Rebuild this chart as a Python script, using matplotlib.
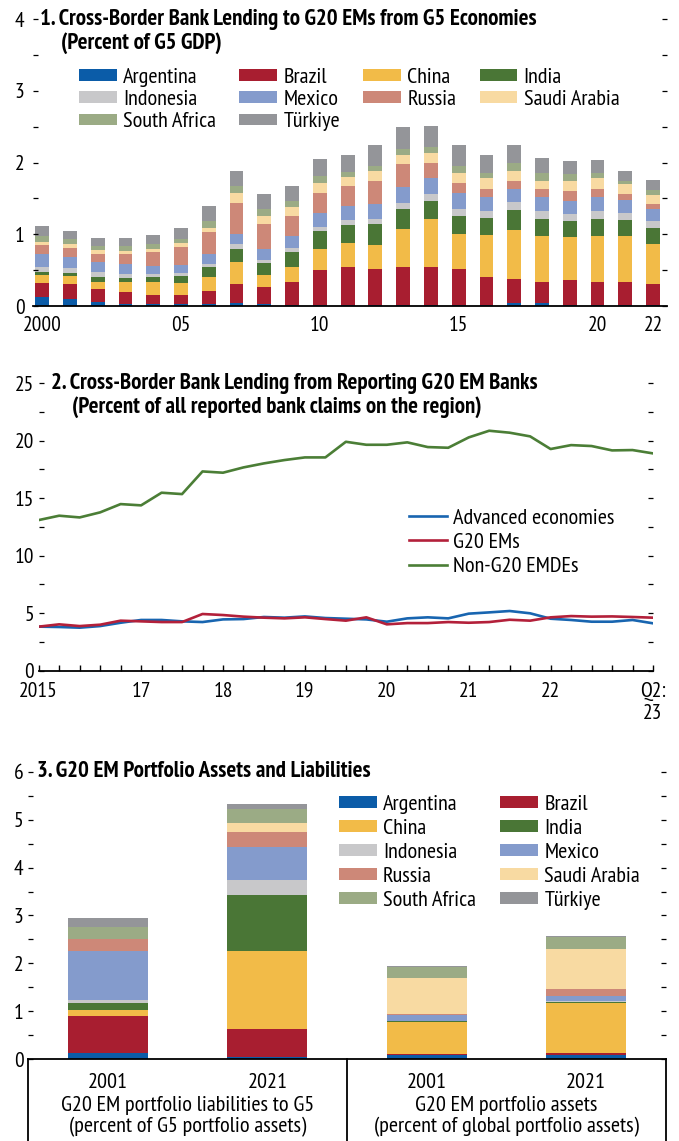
import matplotlib
matplotlib.use("Agg")
import matplotlib.pyplot as plt
from matplotlib import font_manager
from matplotlib.ticker import MultipleLocator
import numpy as np

# ---------------------------------------------------------------- fonts
# the chart uses a condensed grotesque; take the first narrow family that is here
installed = {}
for f in font_manager.fontManager.ttflist:
    installed.setdefault(f.name, set()).add(f.weight)
narrow = ["Liberation Sans Narrow", "Arial Narrow", "Archivo Narrow", "PT Sans Narrow",
          "Roboto Condensed", "Fira Sans Condensed", "IBM Plex Sans Condensed"]
chosen = [n for n in narrow if n in installed and 700 in installed[n]]
if chosen:
    plt.rcParams["font.family"] = [chosen[0], "DejaVu Sans"]
else:
    plt.rcParams["font.family"] = ["DejaVu Sans"]
    plt.rcParams["font.stretch"] = "condensed"

# ---------------------------------------------------------------- data
countries = ["Argentina", "Brazil", "China", "India", "Indonesia",
             "Mexico", "Russia", "Saudi Arabia", "South Africa", "Türkiye"]
colors = ["#0b5ca8", "#a81e30", "#f2bb48", "#4a7636", "#c8c8ca",
          "#849bcc", "#cd8878", "#f8daa2", "#9bab85", "#949599"]

# panel 1: cross-border bank lending to G20 EMs from G5 (percent of G5 GDP)
years1 = list(range(2000, 2023))
arg1 = [.12, .10, .06, .03, .03, .03, .03, .04, .03, .02, .02, .02, .02, .02, .02, .02, .02, .04, .04, .02, .02, .02, .01]
bra1 = [.20, .21, .18, .16, .12, .12, .18, .27, .23, .32, .48, .53, .50, .52, .52, .49, .39, .34, .30, .34, .32, .32, .30]
chi1 = [.11, .11, .10, .14, .18, .17, .20, .31, .17, .21, .29, .33, .33, .54, .67, .50, .58, .68, .64, .60, .64, .64, .56]
ind1 = [.05, .04, .07, .06, .08, .10, .14, .18, .17, .20, .25, .25, .29, .28, .25, .25, .24, .28, .24, .22, .24, .22, .22]
idn1 = [.07, .07, .06, .06, .04, .04, .04, .06, .04, .06, .06, .07, .07, .08, .10, .10, .10, .11, .11, .11, .10, .10, .10]
mex1 = [.17, .15, .14, .13, .11, .11, .13, .15, .15, .16, .20, .20, .22, .22, .22, .21, .19, .18, .19, .18, .20, .18, .17]
rus1 = [.13, .13, .11, .15, .20, .25, .31, .43, .35, .28, .27, .27, .31, .32, .21, .15, .11, .11, .11, .13, .11, .08, .06]
sau1 = [.05, .06, .06, .04, .03, .06, .06, .13, .11, .13, .14, .13, .14, .13, .15, .14, .15, .14, .12, .14, .15, .14, .13]
zaf1 = [.07, .06, .06, .07, .07, .06, .10, .10, .10, .08, .10, .07, .08, .08, .08, .10, .08, .11, .11, .10, .07, .04, .07]
tur1 = [.15, .12, .11, .11, .13, .15, .21, .22, .21, .21, .24, .24, .28, .31, .29, .28, .25, .25, .21, .18, .18, .15, .14]
p1_tick_years = [2000, 2005, 2010, 2015, 2020, 2022]
p1_tick_labels = ["2000", "05", "10", "15", "20", "22"]

# panel 2: quarterly, 2015:Q4 to 2023:Q2
advanced = [3.83, 3.80, 3.74, 3.88, 4.17, 4.41, 4.41, 4.29, 4.23, 4.46, 4.49,
            4.67, 4.61, 4.72, 4.58, 4.52, 4.46, 4.26, 4.55, 4.64, 4.55, 4.96,
            5.07, 5.19, 4.99, 4.52, 4.41, 4.26, 4.26, 4.41, 4.12]
g20_ems = [3.83, 4.03, 3.88, 4.00, 4.35, 4.29, 4.23, 4.23, 4.93, 4.84, 4.70,
           4.61, 4.55, 4.64, 4.49, 4.35, 4.64, 4.03, 4.14, 4.14, 4.23, 4.17,
           4.23, 4.43, 4.35, 4.64, 4.75, 4.70, 4.72, 4.67, 4.61]
non_g20 = [13.10, 13.48, 13.33, 13.77, 14.49, 14.38, 15.48, 15.36, 17.33, 17.22,
           17.68, 18.03, 18.32, 18.55, 18.55, 19.91, 19.65, 19.65, 19.86, 19.45,
           19.39, 20.29, 20.87, 20.70, 20.38, 19.28, 19.62, 19.54, 19.16, 19.19, 18.90]
p2_tick_idx = [0, 5, 9, 13, 17, 21, 25, 30]
p2_tick_labels = ["2015", "17", "18", "19", "20", "21", "22", "Q2:\n23"]

# panel 3: portfolio liabilities to G5 / portfolio assets
bars3 = ["2001", "2021", "2001", "2021"]
groups3 = ["G20 EM portfolio liabilities to G5\n(percent of G5 portfolio assets)",
           "G20 EM portfolio assets\n(percent of global portfolio assets)"]
arg3 = [.125, .05, .10, .08]
bra3 = [.78, .58, .02, .05]
chi3 = [.13, 1.63, .65, 1.05]
ind3 = [.145, 1.17, .02, .02]
idn3 = [.06, .31, .015, .02]
mex3 = [1.01, .68, .12, .10]
rus3 = [.26, .32, .015, .15]
sau3 = [0.0, .19, .765, .83]
zaf3 = [.24, .29, .23, .25]
tur3 = [.19, .11, .02, .02]

FS = 16      # legends and category labels
TKS = 15.5   # tick labels
TFS = 16.5   # panel titles


def style_axis(ax, ymax, major, minor, ypad):
    for side in ["top", "left", "right"]:
        ax.spines[side].set_visible(False)
    ax.spines["bottom"].set_linewidth(1.3)
    ax.set_ylim(0, ymax)
    ax.yaxis.set_major_locator(MultipleLocator(major))
    ax.yaxis.set_minor_locator(MultipleLocator(minor))
    ax.tick_params(axis="y", which="both", direction="in", length=3.5, width=0.9,
                   left=True, right=True, labelsize=TKS, pad=ypad)


def stacked(ax, x, series, width):
    bottom = np.zeros(len(x))
    for vals, c, name in zip(series, colors, countries):
        ax.bar(x, vals, width, bottom=bottom, color=c, label=name, linewidth=0)
        bottom += np.array(vals)


def reorder(handles, labels, ncol, nrow):
    # matplotlib fills legends column by column; the chart reads row by row
    idx = [r * ncol + c for c in range(ncol) for r in range(nrow) if r * ncol + c < len(handles)]
    return [handles[i] for i in idx], [labels[i] for i in idx]


def title(ax, line1, line2, x1, x2, y2):
    ax.text(x1, 1.0, line1, transform=ax.transAxes, fontsize=TFS,
            fontweight="bold", va="center", ha="left")
    if line2:
        ax.text(x2, y2, line2, transform=ax.transAxes, fontsize=TFS,
                fontweight="bold", va="center", ha="left")


fig = plt.figure(figsize=(6.79, 11.41), dpi=100)

# ---------------------------------------------------------------- panel 1
ax1 = fig.add_axes([0.0486, 0.7318, 0.9337, 0.2513])
x1 = np.array(years1)
stacked(ax1, x1, [arg1, bra1, chi1, ind1, idn1, mex1, rus1, sau1, zaf1, tur1], 0.5)
style_axis(ax1, 4, 1, 0.5, 6)
ax1.set_xlim(years1[0] - 0.33, years1[-1] + 0.5)
ax1.set_xticks(p1_tick_years)
ax1.set_xticklabels(p1_tick_labels)
ax1.tick_params(axis="x", length=0, labelsize=TKS, pad=7)
title(ax1, "1. Cross-Border Bank Lending to G20 EMs from G5 Economies",
      "(Percent of G5 GDP)", 0.011, 0.044, 0.918)
h, l = ax1.get_legend_handles_labels()
h, l = reorder(h, l, 4, 3)
ax1.legend(h, l, ncol=4, loc="upper left", bbox_to_anchor=(0.0726, 0.831),
           frameon=False, fontsize=FS, borderpad=0, borderaxespad=0,
           handlelength=1.7, handleheight=0.45, handletextpad=0.28,
           labelspacing=0.15, columnspacing=1.05)

# ---------------------------------------------------------------- panel 2
ax2 = fig.add_axes([0.0570, 0.4122, 0.9047, 0.2519])
x2 = np.arange(len(advanced))
ax2.plot(x2, advanced, color="#1865b0", lw=1.9, label="Advanced economies")
ax2.plot(x2, g20_ems, color="#b3203a", lw=1.9, label="G20 EMs")
ax2.plot(x2, non_g20, color="#4b7e36", lw=1.9, label="Non-G20 EMDEs")
style_axis(ax2, 25, 5, 2.5, 3.5)
ax2.set_xlim(0, len(advanced) - 1)
ax2.set_xticks(x2, minor=True)
ax2.set_xticks(p2_tick_idx)
ax2.set_xticklabels(p2_tick_labels)
ax2.tick_params(axis="x", which="both", direction="in", length=4.5, width=1.0,
                labelsize=TKS, pad=8)
title(ax2, "2. Cross-Border Bank Lending from Reporting G20 EM Banks",
      "(Percent of all reported bank claims on the region)", 0.020, 0.054, 0.918)
ax2.legend(loc="upper left", bbox_to_anchor=(0.603, 0.566), frameon=False,
           fontsize=FS, borderpad=0, borderaxespad=0, handlelength=1.7,
           handletextpad=0.28, labelspacing=0.22)

# ---------------------------------------------------------------- panel 3
ax3 = fig.add_axes([0.0417, 0.0716, 0.9387, 0.2521])
x3 = np.arange(len(bars3))
stacked(ax3, x3, [arg3, bra3, chi3, ind3, idn3, mex3, rus3, sau3, zaf3, tur3], 0.5)
style_axis(ax3, 6, 1, 0.5, 3.5)
ax3.set_xlim(-0.5, len(bars3) - 0.5)
ax3.set_xticks(x3)
ax3.set_xticklabels(bars3)
ax3.tick_params(axis="x", length=0, labelsize=FS, pad=10)
for gx, glabel in zip([0.5, 2.5], groups3):
    ax3.text(gx, -0.128, glabel, transform=ax3.get_xaxis_transform(), ha="center",
             va="top", fontsize=FS, linespacing=1.1)
for vx in [-0.5, 1.5, len(bars3) - 0.5]:
    ax3.plot([vx, vx], [0, -0.30], transform=ax3.get_xaxis_transform(),
             color="black", lw=1.3, clip_on=False)
title(ax3, "3. G20 EM Portfolio Assets and Liabilities", None, 0.013, 0, 0)
h, l = ax3.get_legend_handles_labels()
h, l = reorder(h, l, 2, 5)
ax3.legend(h, l, ncol=2, loc="upper left", bbox_to_anchor=(0.4875, 0.918),
           frameon=False, fontsize=FS, borderpad=0, borderaxespad=0,
           handlelength=1.7, handleheight=0.45, handletextpad=0.28,
           labelspacing=0.22, columnspacing=1.1)

fig.savefig("out.png", dpi=100)
